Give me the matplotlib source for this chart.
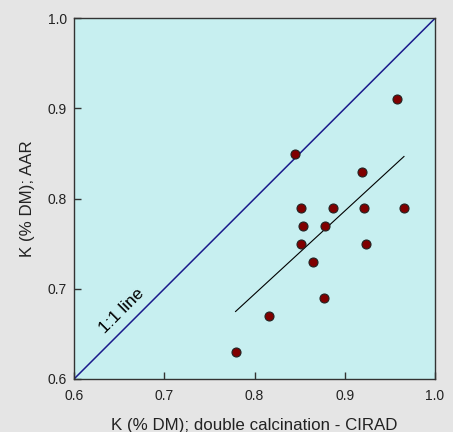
import numpy as np
import matplotlib
matplotlib.use("Agg")
import matplotlib.pyplot as plt

plt.rcParams['font.family'] = ['Liberation Sans', 'DejaVu Sans']

# Data
cirad = [0.779, 0.816, 0.845, 0.852, 0.854, 0.852, 0.8645, 0.877, 0.878,
         0.887, 0.919, 0.921, 0.923, 0.9575, 0.9656]
aar = [0.63, 0.67, 0.85, 0.79, 0.77, 0.75, 0.73, 0.69, 0.77,
       0.79, 0.83, 0.79, 0.75, 0.91, 0.79]
ticks = [0.6, 0.7, 0.8, 0.9, 1.0]
tick_labels = ["0.6", "0.7", "0.8", "0.9", "1.0"]
xlabel = "K (% DM); double calcination - CIRAD"
ylabel = "K (% DM); AAR"
one_to_one_label = "1:1 line"

fig = plt.figure(figsize=(4.53, 4.32), dpi=100, facecolor="#e5e5e5")
ax = fig.add_axes([0.1634, 0.1227, 0.7969, 0.8349])
ax.set_facecolor("#c7eff0")

# 1:1 line
ax.plot([ticks[0], ticks[-1]], [ticks[0], ticks[-1]], color="#1a1a8c", lw=1.1, zorder=2)

# regression line
x = np.array(cirad)
y = np.array(aar)
slope, inter = np.polyfit(x, y, 1)
xs = np.array([x.min(), x.max()])
ax.plot(xs, slope * xs + inter, color="black", lw=0.8, zorder=2)

ax.scatter(x, y, s=42, color="#800000", edgecolors="#222222", linewidths=0.8, zorder=3)

ax.text(0.653, 0.675, one_to_one_label, rotation=45, ha="center", va="center",
        fontsize=12.5, rotation_mode="anchor")

ax.set_xlim(ticks[0], ticks[-1])
ax.set_ylim(ticks[0], ticks[-1])
ax.set_xticks(ticks)
ax.set_xticklabels(tick_labels)
ax.set_yticks(ticks)
ax.set_yticklabels(tick_labels)
ax.tick_params(axis="both", direction="in", length=5, width=1, color="#333333",
               labelsize=10, labelcolor="#222222")
ax.tick_params(axis="x", pad=7)
ax.tick_params(axis="y", pad=5)
for s in ax.spines.values():
    s.set_color("#333333")
    s.set_linewidth(1)

ax.set_xlabel(xlabel, fontsize=12.2, color="#222222", labelpad=11)
ax.set_ylabel(ylabel, fontsize=12.2, color="#222222", labelpad=9)

fig.savefig("out.png", dpi=100, facecolor=fig.get_facecolor())
